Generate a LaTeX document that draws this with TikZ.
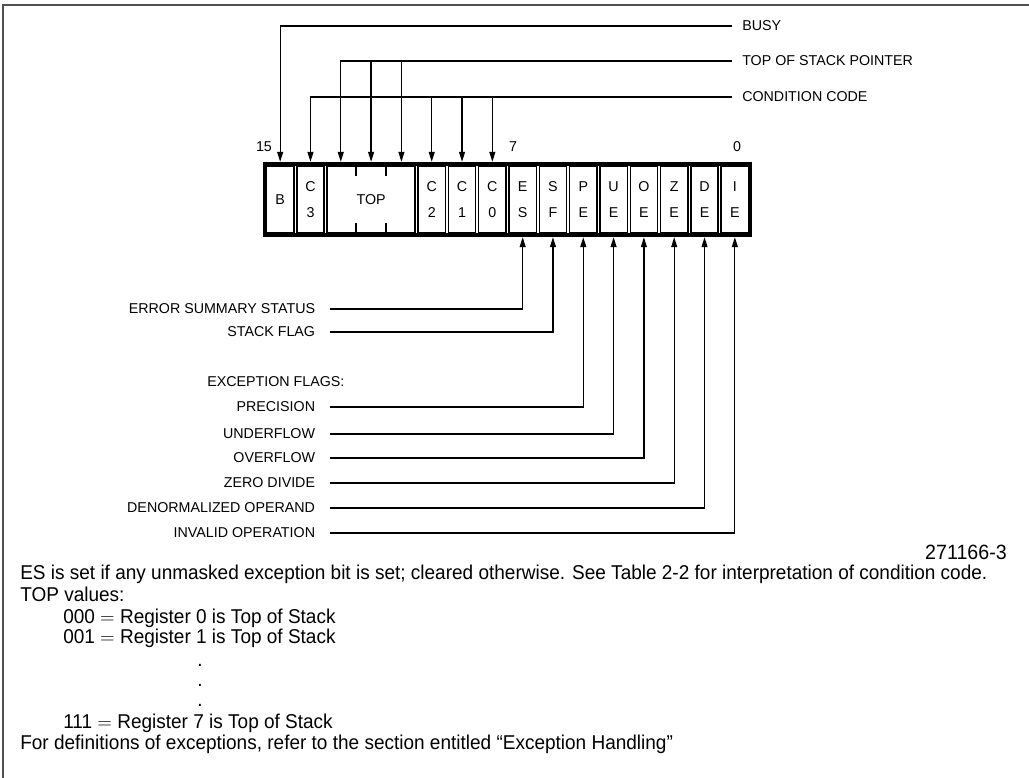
\documentclass[tikz,border=0pt]{standalone}
\usepackage{fontspec}
\setmainfont{Liberation Sans}
\newfontfamily\labfont{Liberation Sans}
\newfontfamily\notefont[FakeStretch=0.95]{Liberation Sans}
\usetikzlibrary{arrows.meta,positioning,calc}
\definecolor{cFrame}{RGB}{80,80,80}

\begin{document}
\begin{tikzpicture}[x=0.75pt,y=-0.75pt,
  lab/.style={font=\labfont\fontsize{10.7}{19.5}\selectfont,inner ysep=0pt,inner xsep=7.5pt},
  cell/.style={draw,line width=1.1pt,inner sep=0pt,minimum width=20.5pt,minimum height=49.5pt,
    align=center,font=\labfont\fontsize{10.7}{19.5}\selectfont},
  arr/.style={-{Triangle[length=7.5pt,width=4.5pt]},line width=0.9pt,shorten >=3pt},
  note/.style={font=\notefont\fontsize{15}{18}\selectfont,anchor=base west,inner sep=0pt}]
  \useasboundingbox (0,0) rectangle (1029,778);
  \draw[cFrame,line width=2.2pt] (3,778) -- (3,5) -- (1029,5);
  % bit positions
  \foreach \i in {0,...,15}
    \coordinate (bit\i) at ({750-(\i+0.5)*30.3125},199.5);
  \draw[line width=2.3pt] (265,164) rectangle (750,235);
  \foreach \nm/\i/\txt in {b/15/B,c3/14/{C\\3},c2/10/{C\\2},c1/9/{C\\1},c0/8/{C\\0},
      es/7/{E\\S},sf/6/{S\\F},pe/5/{P\\E},ue/4/{U\\E},oe/3/{O\\E},ze/2/{Z\\E},de/1/{D\\E},ie/0/{I\\E}}
    \node[cell] (\nm) at (bit\i) {\txt};
  \node[cell,minimum width=66pt] (top) at (bit12) {TOP};
  \coordinate (tk1) at ($(bit13)!0.5!(bit12)$);
  \coordinate (tk2) at ($(bit12)!0.5!(bit11)$);
  \foreach \t in {tk1,tk2} {
    \draw[line width=1.3pt] (\t |- top.north) ++(0,-2) -- ++(0,12);
    \draw[line width=1.3pt] (\t |- top.south) ++(0,2) -- ++(0,-12);
  }
  \node[lab] (n15) at (264,147) {15};
  \node[lab] (n7) at (513,147) {7};
  \node[lab] (n0) at (737,147) {0};
  % upper fields
  \node[lab,anchor=west] (busy) at (732,26) {BUSY};
  \node[lab,anchor=west] (tos) at (732,61) {TOP OF STACK POINTER};
  \node[lab,anchor=west] (cc) at (732,97) {CONDITION CODE};
  \draw[arr] (busy.west) -| (b.north);
  \draw[arr] (tos.west) -| (bit13 |- top.north);
  \draw[arr] (bit12 |- tos.west) -- (bit12 |- top.north);
  \draw[arr] (bit11 |- tos.west) -- (bit11 |- top.north);
  \draw[arr] (cc.west) -| (c3.north);
  \foreach \c in {c2,c1,c0}
    \draw[arr] (\c |- cc.west) -- (\c.north);
  % lower fields
  \node[lab,anchor=east,inner xsep=11pt] (ess) at (330,309) {ERROR SUMMARY STATUS};
  \node[lab,anchor=east,inner xsep=11pt] (stk) at (330,332) {STACK FLAG};
  \draw[arr] (ess.east) -| (es.south);
  \draw[arr] (stk.east) -| (sf.south);
  \node[lab,anchor=west] (exc) at (197,382) {EXCEPTION FLAGS:};
  \foreach \nm/\c/\y/\txt in {prec/pe/407/PRECISION,undf/ue/434/UNDERFLOW,ovf/oe/458/OVERFLOW,
      zdiv/ze/483/ZERO DIVIDE,dnrm/de/508/DENORMALIZED OPERAND,inv/ie/533/INVALID OPERATION} {
    \node[lab,anchor=east,inner xsep=11pt] (\nm) at (330,\y) {\txt};
    \draw[arr] (\nm.east) -| (\c.south);
  }
  % notes
  \node[note,anchor=base east,font=\notefont\fontsize{15.5}{15}\selectfont] (fig) at (1007,559) {271166-3};
  \node[note] (n1) at (20,579) {ES is set if any unmasked exception bit is set; cleared otherwise. See Table 2-2 for interpretation of condition code.};
  \node[note] (n2) at (20,601) {TOP values:};
  \node[note] (v0) at (63,623) {000 $=$ Register 0 is Top of Stack};
  \node[note] (v1) at (63,643) {001 $=$ Register 1 is Top of Stack};
  \foreach \y in {666,686,706}
    \node[note] at (197,\y) {.};
  \node[note] (v7) at (63,728) {111 $=$ Register 7 is Top of Stack};
  \node[note] (n3) at (20,749) {For definitions of exceptions, refer to the section entitled “Exception Handling”};
\end{tikzpicture}
\end{document}
